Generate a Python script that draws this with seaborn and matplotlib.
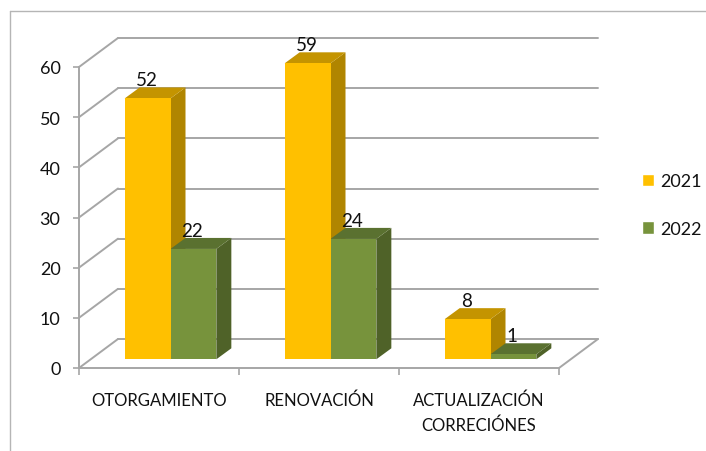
import pandas as pd
import matplotlib
matplotlib.use('Agg')
import matplotlib.pyplot as plt
from matplotlib.lines import Line2D
from matplotlib.patches import Polygon
import seaborn as sns

categories = ['OTORGAMIENTO', 'RENOVACIÓN', 'ACTUALIZACIÓN\nCORRECIÓNES']
valores_2021 = [52, 59, 8]
valores_2022 = [22, 24, 1]
anios = ['2021', '2022']
yticks = [0, 10, 20, 30, 40, 50, 60]

df = pd.DataFrame({
    'cat': categories * 2,
    'anio': ['2021'] * 3 + ['2022'] * 3,
    'valor': valores_2021 + valores_2022,
})

W, H = 706, 452
sns.set_theme(style='white')
plt.rcParams['font.family'] = ['Lato', 'DejaVu Sans']

fig = plt.figure(figsize=(W / 100, H / 100), dpi=100)
# eje frontal en pixeles: x 79-559, y 369-68
ax = fig.add_axes([79 / W, 1 - 369 / H, 480 / W, 301 / H])

colores = {'2021': '#ffc000', '2022': '#77933c'}
lados = {'2021': '#b08500', '2022': '#4f6228'}
techos = {'2021': '#c49400', '2022': '#5a7130'}

sns.barplot(data=df, x='cat', y='valor', hue='anio', hue_order=anios,
            palette=colores, width=0.573, gap=0, saturation=1, ax=ax, legend=True)
ax.set_xlim(-0.5, 2.5)
ax.set_ylim(0, 60)
ax.set_xlabel('')
ax.set_ylabel('')

# de pixeles a unidades de datos
px_x = 3 / 480
px_y = 60 / 301
gris = '#a6a6a6'

# pared del fondo y diagonales
dx, dy = 39 * px_x, 29 * px_y
for v in yticks:
    ax.plot([-0.5 + dx, 2.5 + dx], [v + dy, v + dy], color=gris, lw=1.4, clip_on=False, zorder=1)
    ax.plot([-0.5, -0.5 + dx], [v, v + dy], color=gris, lw=1.4, clip_on=False, zorder=1)
ax.plot([2.5, 2.5 + dx], [0, dy], color=gris, lw=1.4, clip_on=False, zorder=1)

# barras con profundidad
sx, sy = 11.5 * px_x, 8.7 * px_y
bx, by = 15 * px_x, 11 * px_y
for cont, anio in zip(ax.containers, anios):
    for bar in cont:
        x0 = bar.get_x() + sx
        w = bar.get_width()
        h = bar.get_height()
        bar.set_x(x0)
        bar.set_y(sy)
        bar.set_zorder(5)
        bar.set_linewidth(0)
        bar.set_clip_on(False)
        z = 3 if anio == '2021' else 4
        ax.add_patch(Polygon([(x0 + w, sy), (x0 + w + bx, sy + by), (x0 + w + bx, sy + h + by), (x0 + w, sy + h)],
                             closed=True, fc=lados[anio], lw=0, zorder=z, clip_on=False))
        ax.add_patch(Polygon([(x0, sy + h), (x0 + w, sy + h), (x0 + w + bx, sy + h + by), (x0 + bx, sy + h + by)],
                             closed=True, fc=techos[anio], lw=0, zorder=z, clip_on=False))
        ax.annotate('%d' % h, (x0 + w / 2, sy + h + by), xytext=(-1, 2), textcoords='offset pixels',
                    ha='center', va='baseline', fontsize=13.5, color='#111111', zorder=8, annotation_clip=False)

# ejes
for lado in ['top', 'right']:
    ax.spines[lado].set_visible(False)
for lado in ['left', 'bottom']:
    ax.spines[lado].set_color(gris)
    ax.spines[lado].set_linewidth(1.4)
ax.set_yticks(yticks)
ax.set_xticks([-0.5, 0.5, 1.5, 2.5])
ax.set_xticklabels([])
ax.set_xticks([0, 1, 2], categories, minor=True)
ax.tick_params(axis='x', which='major', length=5, color=gris, width=1.2, bottom=True)
ax.tick_params(axis='x', which='minor', length=0, pad=17, labelsize=12, labelcolor='#111111')
ax.tick_params(axis='y', length=4.3, color=gris, width=1.2, left=True, pad=9, labelsize=13, labelcolor='#111111')
for t in ax.get_xticklabels(minor=True):
    t.set_linespacing(1.6)

# leyenda
ax.legend(handles=ax.get_legend().legend_handles, labels=anios, loc='center left',
          bbox_to_anchor=(642 / W, 1 - 206 / H), bbox_transform=fig.transFigure, frameon=False,
          fontsize=13, handlelength=0.67, handleheight=0.67, handletextpad=0.35,
          labelspacing=1.75, borderpad=0, borderaxespad=0, labelcolor='#111111')

# borde del grafico (solo arriba e izquierda)
borde = '#b5b5b5'
fig.add_artist(Line2D([9.5 / W, 9.5 / W], [0, 1 - 11.7 / H], transform=fig.transFigure, color=borde, lw=1))
fig.add_artist(Line2D([9.5 / W, 1], [1 - 11.7 / H, 1 - 11.7 / H], transform=fig.transFigure, color=borde, lw=1))

fig.savefig('out.png', dpi=100)
